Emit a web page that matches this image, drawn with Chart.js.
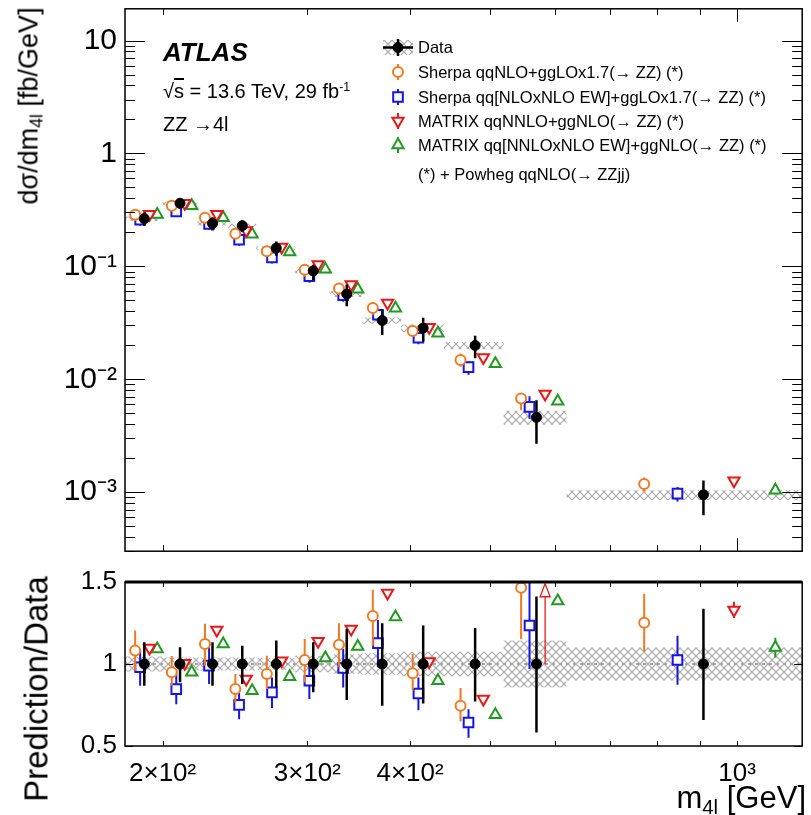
<!DOCTYPE html>
<html><head><meta charset="utf-8">
<script src="https://cdn.jsdelivr.net/npm/chart.js@4.4.1/dist/chart.umd.min.js"></script>
<style>
html,body{margin:0;padding:0;background:#fff;}
#wrap{position:relative;width:811px;height:815px;overflow:hidden;font-family:"Liberation Sans",Arial,Helvetica,sans-serif;color:#000;}
canvas{position:absolute;left:0;}
#c1{top:0;}
#c2{top:560px;}
.t{position:absolute;white-space:nowrap;line-height:1;}
.t sup{font-size:0.62em;vertical-align:0.6em;line-height:0;}
.t sub{font-size:0.66em;vertical-align:-0.3em;line-height:0;}
.rot{transform:translate(-50%,-50%) rotate(-90deg);}
.leg{font-size:16.5px;left:418px;}
</style></head><body>
<div id="wrap">
<canvas id="c1" width="811" height="560"></canvas>
<canvas id="c2" width="811" height="255"></canvas>

<div class="t rot" style="left:29px;top:106px;font-size:27px;">dσ/dm<sub>4l</sub> [fb/GeV]</div>
<div class="t rot" style="left:36px;top:689px;font-size:33px;">Prediction/Data</div>
<div class="t" style="right:5px;top:782px;font-size:31px;">m<sub>4l</sub> [GeV]</div>

<div class="t" style="left:163px;top:39px;font-size:26px;font-weight:bold;font-style:italic;">ATLAS</div>
<div class="t" style="left:163px;top:81px;font-size:20px;">√<span style="text-decoration:overline">s</span> = 13.6 TeV, 29 fb<sup>-1</sup></div>
<div class="t" style="left:163px;top:114px;font-size:20px;">ZZ →4l</div>

<div class="t leg" style="top:39px;">Data</div>
<div class="t leg" style="top:64px;">Sherpa qqNLO+ggLOx1.7(→ ZZ) (*)</div>
<div class="t leg" style="top:89px;">Sherpa qq[NLOxNLO EW]+ggLOx1.7(→ ZZ) (*)</div>
<div class="t leg" style="top:113px;">MATRIX qqNNLO+ggNLO(→ ZZ) (*)</div>
<div class="t leg" style="top:137px;">MATRIX qq[NNLOxNLO EW]+ggNLO(→ ZZ) (*)</div>
<div class="t leg" style="top:166px;">(*) + Powheg qqNLO(→ ZZjj)</div>
</div>
<script>
// ---------------- data ----------------
const binEdges = [180,200,220,240,260,290,320,350,390,440,520,620,1200];
const xTickValues = [200,300,400,500,600,700,800,900,1000];
const xTickLabels = {200:'2×10²',300:'3×10²',400:'4×10²',1000:'10³'};
const yTickValues = [10,1,0.1,0.01,0.001];
const yTickLabels = {10:'10',1:'1',0.1:'10⁻¹',0.01:'10⁻²',0.001:'10⁻³'};
const ratioTickValues = [0.5,1,1.5];

const dataXsec   = [0.264,0.362,0.240,0.229,0.145,0.091,0.0568,0.0331,0.0284,0.0199,0.00461,0.000947];
const dataStatUp = [0.133,0.102,0.133,0.112,0.143,0.133,0.214,0.249,0.235,0.220,0.412,0.337];
const dataStatDn = [0.133,0.112,0.133,0.122,0.143,0.173,0.220,0.255,0.241,0.229,0.418,0.341];
const dataSyst   = [0.045,0.040,0.040,0.040,0.037,0.050,0.060,0.065,0.075,0.075,0.143,0.100];
const dataRatio  = [1,1,1,1,1,1,1,1,1,1,1,1];

const sherpaXsec  = [0.286,0.344,0.269,0.194,0.136,0.0932,0.0635,0.0428,0.0268,0.0148,0.00675,0.00118];
const sherpaRatio = [1.082,0.949,1.122,0.847,0.939,1.024,1.118,1.292,0.943,0.745,1.465,1.251];
const sherpaErrUp = [0.122,0.100,0.123,0.092,0.112,0.129,0.131,0.161,0.118,0.108,0.100,0.178];
const sherpaErrDn = [0.123,0.082,0.132,0.082,0.092,0.136,0.138,0.180,0.106,0.096,0.312,0.175];

const sherpaEWXsec  = [0.259,0.307,0.238,0.172,0.120,0.0817,0.0554,0.0373,0.0233,0.0128,0.00569,0.00097];
const sherpaEWRatio = [0.980,0.847,0.990,0.751,0.827,0.898,0.976,1.127,0.820,0.643,1.235,1.024];
const sherpaEWErrUp = [0.100,0.092,0.110,0.086,0.091,0.102,0.116,0.142,0.098,0.081,0.300,0.149];
const sherpaEWErrDn = [0.113,0.092,0.112,0.088,0.096,0.112,0.119,0.147,0.102,0.092,0.266,0.151];

const matrixXsec  = [0.290,0.363,0.290,0.208,0.148,0.104,0.069,0.0474,0.0289,0.0156,0.0074,0.00126];
const matrixRatio = [1.098,1.004,1.208,0.908,1.020,1.139,1.214,1.433,1.016,0.786,1.600,1.330];
const matrixErr   = [0.010,0.010,0.010,0.010,0.010,0.010,0.010,0.012,0.012,0.012,0.020,0.050];

const matrixEWXsec  = [0.288,0.344,0.269,0.192,0.134,0.0944,0.0628,0.0426,0.0255,0.0137,0.00638,0.00104];
const matrixEWRatio = [1.092,0.949,1.122,0.837,0.922,1.037,1.106,1.286,0.898,0.690,1.384,1.100];
const matrixEWErr   = [0.010,0.010,0.010,0.010,0.010,0.010,0.010,0.012,0.012,0.012,0.020,0.060];

// ---------------- style ----------------
const COL = {data:'#000000', sherpa:'#f07a22', sherpaEW:'#1515e6', matrix:'#e81818', matrixEW:'#229a22'};
const SHIFT = {data:0.5, sherpa:0.26, sherpaEW:0.39, matrix:0.64, matrixEW:0.85};
const FONT = "'Liberation Sans', Arial, Helvetica, sans-serif";
Chart.defaults.font.family = FONT;
Chart.defaults.color = '#000';

function makeHatch(){
  const n = 8;
  const c = document.createElement('canvas'); c.width = n; c.height = n;
  const g = c.getContext('2d');
  g.strokeStyle = '#a6a6a6'; g.lineWidth = 1.1;
  g.beginPath(); g.moveTo(0,0); g.lineTo(n,n); g.moveTo(n,0); g.lineTo(0,n); g.stroke();
  return g.createPattern(c,'repeat');
}
const hatch = makeHatch();

function binX(i,f){ return binEdges[i] + f*(binEdges[i+1]-binEdges[i]); }
function xs(key){ return dataXsec.map((_,i)=>binX(i,SHIFT[key])); }
function stepPts(vals){
  const p = vals.map((v,i)=>({x:binEdges[i], y:v}));
  p.push({x:binEdges[binEdges.length-1], y:vals[vals.length-1]});
  return p;
}
function pts(xv, yv){ return yv.map((v,i)=>({x:xv[i], y:v})); }

function markerDS(label, key, yv, up, dn, style, radius, rot, filled, order, errW){
  return {type:'scatter', label, data:pts(xs(key), yv), errUp:up, errDn:dn,
    pointStyle:style, pointRadius:radius, pointRotation:rot, pointBorderWidth: filled ? 1 : 2,
    pointBorderColor:COL[key], pointBackgroundColor: filled ? COL[key] : '#ffffff',
    borderColor:COL[key], backgroundColor: filled ? COL[key] : '#ffffff',
    errColor:COL[key], errWidth:errW, order, pointHoverRadius:radius};
}
function bandDS(vals, rel, order){
  const hi = vals.map((v,i)=>v*(1+rel[i])), lo = vals.map((v,i)=>v*(1-rel[i]));
  return [
    {type:'line', label:'bandHi', data:stepPts(hi), stepped:'before', pointRadius:0, borderWidth:0, borderColor:'rgba(0,0,0,0)', fill:false, order},
    {type:'line', label:'bandLo', data:stepPts(lo), stepped:'before', pointRadius:0, borderWidth:0, borderColor:'rgba(0,0,0,0)', backgroundColor:hatch, fill:'-1', order:order+1}
  ];
}

function relAbs(xsec, err, ratio){ return xsec.map((v,i)=>v*err[i]/ratio[i]); }

// ---------------- plugins ----------------
const errPlugin = {
  id:'errbars',
  beforeDatasetDraw(chart, args){
    const ds = chart.data.datasets[args.index];
    if(!ds.errUp) return;
    const {ctx, chartArea:ca} = chart; const ys = chart.scales.y; const meta = args.meta;
    ctx.save();
    ctx.beginPath(); ctx.rect(ca.left, ca.top, ca.right-ca.left, ca.bottom-ca.top); ctx.clip();
    ctx.strokeStyle = ds.errColor; ctx.lineWidth = ds.errWidth;
    ds.data.forEach((p,i)=>{
      const el = meta.data[i]; if(!el) return;
      if (p.y > ys.max) {
        const x = el.x, yb = ys.getPixelForValue(1), yt = ys.getPixelForValue(ys.max - 0.01), yh = ys.getPixelForValue(ys.max - 0.09);
        ctx.lineWidth = 1.3;
        ctx.beginPath(); ctx.moveTo(x, yb); ctx.lineTo(x, yh); ctx.stroke();
        ctx.beginPath(); ctx.moveTo(x-5, yh); ctx.lineTo(x+5, yh); ctx.lineTo(x, yt); ctx.closePath(); ctx.stroke();
        ctx.lineWidth = ds.errWidth;
        return;
      }
      const y1 = ys.getPixelForValue(p.y + ds.errUp[i]);
      const y2 = ys.getPixelForValue(p.y - ds.errDn[i]);
      ctx.beginPath(); ctx.moveTo(el.x, y1); ctx.lineTo(el.x, y2); ctx.stroke();
    });
    ctx.restore();
  }
};

const framePlugin = {
  id:'frame',
  beforeDatasetsDraw(chart, args, o){
    if(!o.refLine) return;
    const {ctx, chartArea:ca} = chart; const y = chart.scales.y.getPixelForValue(1);
    ctx.save(); ctx.strokeStyle = '#555'; ctx.lineWidth = 1; ctx.setLineDash([3,4]);
    ctx.beginPath(); ctx.moveTo(ca.left, y); ctx.lineTo(ca.right, y); ctx.stroke(); ctx.restore();
  },
  afterDraw(chart, args, o){
    const {ctx, chartArea:ca, scales:{x, y}} = chart;
    ctx.save(); ctx.strokeStyle = '#000'; ctx.lineWidth = 1;
    ctx.beginPath();
    for (const v of xTickValues){
      const px = Math.round(x.getPixelForValue(v)) + 0.5;
      const len = (v === 1000) ? o.xMajor : o.xMinor;
      ctx.moveTo(px, ca.bottom); ctx.lineTo(px, ca.bottom - len);
      ctx.moveTo(px, ca.top); ctx.lineTo(px, ca.top + len);
    }
    for (const t of o.yTicks){
      const py = Math.round(y.getPixelForValue(t.v)) + 0.5;
      if (py < ca.top - 0.1 || py > ca.bottom + 0.6) continue;
      ctx.moveTo(ca.left, py); ctx.lineTo(ca.left + t.len, py);
      ctx.moveTo(ca.right, py); ctx.lineTo(ca.right - t.len, py);
    }
    ctx.stroke();
    ctx.lineWidth = o.frameW;
    ctx.strokeRect(ca.left, ca.top, ca.right-ca.left, ca.bottom-ca.top);
    if (o.topW){ ctx.lineWidth = o.topW; ctx.beginPath(); ctx.moveTo(ca.left, ca.top); ctx.lineTo(ca.right, ca.top); ctx.stroke(); }
    ctx.restore();
  }
};

function drawMarker(ctx, style, r, rot, x, y, color, filled){
  ctx.save(); ctx.strokeStyle = color; ctx.fillStyle = filled ? color : '#fff'; ctx.lineWidth = filled ? 1 : 2;
  const opts = {pointStyle:style, radius:r, rotation:rot, borderWidth: filled ? 1 : 2};
  if (Chart.helpers && Chart.helpers.drawPoint) { Chart.helpers.drawPoint(ctx, opts, x, y); }
  ctx.restore();
}
const legendPlugin = {
  id:'legendMarks',
  afterDraw(chart){
    const ctx = chart.ctx; const lx = 398;
    ctx.save();
    ctx.fillStyle = hatch; ctx.fillRect(383, 40, 30, 15);
    ctx.strokeStyle = '#000'; ctx.lineWidth = 2.5;
    ctx.beginPath(); ctx.moveTo(383, 47.5); ctx.lineTo(413, 47.5); ctx.moveTo(lx, 39); ctx.lineTo(lx, 56); ctx.stroke();
    ctx.restore();
    drawMarker(ctx, 'circle', 5, 0, lx, 47.5, COL.data, true);
    const rows = [[72,'sherpa','circle',5,0],[97,'sherpaEW','rect',6.8,0],[121,'matrix','triangle',6.5,180],[145,'matrixEW','triangle',6.5,0]];
    for (const [yy,key,st,r,rot] of rows){
      ctx.save(); ctx.strokeStyle = COL[key]; ctx.lineWidth = 2;
      ctx.beginPath(); ctx.moveTo(lx, yy-8); ctx.lineTo(lx, yy+8); ctx.stroke(); ctx.restore();
      drawMarker(ctx, st, r, rot, lx, yy, COL[key], false);
    }
  }
};

function logTicks(){
  const out = [];
  for (let k=-4; k<=1; k++) for (let m=1; m<=9; m++) out.push({v:m*Math.pow(10,k), len: m===1 ? 20 : 10});
  return out;
}
function zeroPad(s){ s.paddingTop = 0; s.paddingBottom = 0; s.paddingLeft = 0; s.paddingRight = 0; }
const noGrid = {display:false, drawTicks:false, tickLength:0};

// ---------------- top chart ----------------
const topDatasets = [
  markerDS('Data','data',dataXsec, dataXsec.map((v,i)=>v*dataStatUp[i]), dataXsec.map((v,i)=>v*dataStatDn[i]), 'circle',5,0,true,0,2.5),
  markerDS('Sherpa qqNLO','sherpa',sherpaXsec, relAbs(sherpaXsec,sherpaErrUp,sherpaRatio), relAbs(sherpaXsec,sherpaErrDn,sherpaRatio),'circle',5,0,false,1,2),
  markerDS('Sherpa EW','sherpaEW',sherpaEWXsec, relAbs(sherpaEWXsec,sherpaEWErrUp,sherpaEWRatio), relAbs(sherpaEWXsec,sherpaEWErrDn,sherpaEWRatio),'rect',6.8,0,false,2,2),
  markerDS('MATRIX','matrix',matrixXsec, relAbs(matrixXsec,matrixErr,matrixRatio), relAbs(matrixXsec,matrixErr,matrixRatio),'triangle',6.5,180,false,3,2),
  markerDS('MATRIX EW','matrixEW',matrixEWXsec, relAbs(matrixEWXsec,matrixEWErr,matrixEWRatio), relAbs(matrixEWXsec,matrixEWErr,matrixEWRatio),'triangle',6.5,0,false,4,2),
  ...bandDS(dataXsec, dataSyst, 20)
];

new Chart(document.getElementById('c1'), {
  type:'scatter',
  data:{datasets: topDatasets},
  options:{
    responsive:false, animation:false, events:[],
    layout:{padding:{left:0, right:5, top:8, bottom:0}},
    plugins:{legend:{display:false}, tooltip:{enabled:false},
      frame:{xMajor:13, xMinor:6, yTicks:logTicks(), frameW:1.5}},
    scales:{
      x:{type:'logarithmic', min:180, max:1200, grid:noGrid, border:{display:false},
         ticks:{display:false},
         afterBuildTicks(s){ s.ticks = xTickValues.map(v=>({value:v})); },
         afterFit(s){ s.height = 7; zeroPad(s); }},
      y:{type:'logarithmic', min:3.03e-4, max:19.1, grid:noGrid, border:{display:false},
         ticks:{font:{size:30}, color:'#000', padding:8, autoSkip:false, callback:(v)=> yTickLabels[v] ?? ''},
         afterBuildTicks(s){ s.ticks = yTickValues.map(v=>({value:v})); },
         afterFit(s){ s.width = 125; zeroPad(s); }}
    }
  },
  plugins:[errPlugin, framePlugin, legendPlugin]
});

// ---------------- ratio chart ----------------
const ratioDatasets = [
  markerDS('Data','data',dataRatio, dataStatUp, dataStatDn,'circle',5,0,true,0,2.5),
  markerDS('Sherpa qqNLO','sherpa',sherpaRatio, sherpaErrUp, sherpaErrDn,'circle',5,0,false,1,2),
  markerDS('Sherpa EW','sherpaEW',sherpaEWRatio, sherpaEWErrUp, sherpaEWErrDn,'rect',6.8,0,false,2,2),
  markerDS('MATRIX','matrix',matrixRatio, matrixErr, matrixErr,'triangle',6.5,180,false,3,2),
  markerDS('MATRIX EW','matrixEW',matrixEWRatio, matrixEWErr, matrixEWErr,'triangle',6.5,0,false,4,2),
  ...bandDS(dataRatio, dataSyst, 20)
];

new Chart(document.getElementById('c2'), {
  type:'scatter',
  data:{datasets: ratioDatasets},
  options:{
    responsive:false, animation:false, events:[],
    layout:{padding:{left:0, right:5, top:22, bottom:0}},
    plugins:{legend:{display:false}, tooltip:{enabled:false},
      frame:{xMajor:5, xMinor:5, yTicks:[{v:0.5,len:8},{v:1,len:8},{v:1.5,len:8}], frameW:1.5, topW:3, refLine:true}},
    scales:{
      x:{type:'logarithmic', min:180, max:1200, grid:noGrid, border:{display:false},
         ticks:{font:{size:26}, color:'#000', padding:12, autoSkip:false, maxRotation:0, callback:(v)=> xTickLabels[v] ?? ''},
         afterBuildTicks(s){ s.ticks = xTickValues.map(v=>({value:v})); },
         afterFit(s){ s.height = 69; zeroPad(s); }},
      y:{type:'linear', min:0.5, max:1.5, grid:noGrid, border:{display:false},
         ticks:{font:{size:26}, color:'#000', padding:8, autoSkip:false, callback:(v)=> String(v)},
         afterBuildTicks(s){ s.ticks = ratioTickValues.map(v=>({value:v})); },
         afterFit(s){ s.width = 125; zeroPad(s); }}
    }
  },
  plugins:[errPlugin, framePlugin]
});
</script>
</body></html>
